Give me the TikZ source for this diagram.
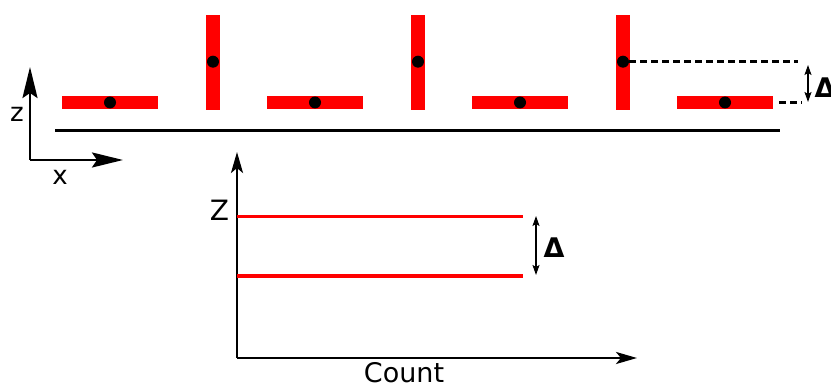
\documentclass[tikz,border=0pt]{standalone}
\usepackage{fontspec}
\setmainfont{DejaVu Sans}
\usetikzlibrary{arrows.meta}
\begin{document}
\begin{tikzpicture}[x=1pt,y=-1pt,
 hbar/.style={fill=red,inner sep=0,outer sep=0,minimum width=96pt,minimum height=13.5pt},
 vbar/.style={fill=red,inner sep=0,outer sep=0,minimum width=14pt,minimum height=95pt},
 dot/.style={circle,fill=black,inner sep=0,minimum size=12pt},
 bigaxis/.style={line width=2.6pt,-{Stealth[length=31pt,width=15pt,inset=5pt]}},
 plotaxis/.style={line width=2.6pt,-{Stealth[length=21pt,width=12pt,inset=5pt]}},
 dbl/.style={line width=1.5pt,{Stealth[length=10pt,width=7pt,inset=2pt]}-{Stealth[length=10pt,width=7pt,inset=2pt]}},
 dash line/.style={line width=2.6pt,dash pattern=on 7pt off 4pt},
 redline/.style={line width=3.2pt,red},
 lbl/.style={inner sep=0,font=\fontsize{26}{30}\selectfont},
 dlbl/.style={inner sep=0,font=\fontsize{27}{30}\selectfont\bfseries}
]
\useasboundingbox (0,0) rectangle (831,387);
% molecules
\foreach \i in {0,1,2,3}{
  \node[hbar] (h\i) at ({110+205*\i},102.5) {};
  \node[dot] (hd\i) at (h\i.center) {};
}
\foreach \i in {0,1,2}{
  \node[vbar] (v\i) at ({213+205*\i},62.5) {};
  \node[dot] (vd\i) at ({213+205*\i},61.7) {};
}
% surface
\coordinate (s1) at (55,130.7);
\coordinate (s2) at (780,130.7);
\draw[line width=2.8pt] (s1) -- (s2);
% dashed guides
\coordinate (d1) at (798,61.7);
\coordinate (d2a) at (779,102.5);
\coordinate (d2b) at (802,102.5);
\draw[dash line] (vd2.east) -- (d1);
\draw[dash line] (d2a) -- (d2b);
\coordinate (ta1) at (808,65);
\coordinate (ta2) at (808,102);
\draw[dbl] (ta1) -- (ta2);
\node[dlbl] (tdelta) at (825,88) {Δ};
% coordinate axes
\coordinate (o) at (30,160);
\coordinate (zt) at (30,67);
\coordinate (xt) at (123,160);
\draw[bigaxis] (o) -- (zt);
\draw[bigaxis] (o) -- (xt);
\node[lbl] (zl) at (17,114) {z};
\node[lbl] (xl) at (60,177) {x};
% histogram
\coordinate (po) at (237,358);
\coordinate (pz) at (237,152);
\coordinate (px) at (637,358);
\draw[plotaxis] (po) -- (pz);
\draw[plotaxis] (po) -- (px);
\coordinate (r1a) at (237,216.7);
\coordinate (r1b) at (523,216.7);
\coordinate (r2a) at (237,276);
\coordinate (r2b) at (523,276);
\draw[redline] (r1a) -- (r1b);
\draw[redline] (r2a) -- (r2b);
\coordinate (ba1) at (536,216);
\coordinate (ba2) at (536,275);
\draw[dbl] (ba1) -- (ba2);
\node[dlbl] (bdelta) at (554,248) {Δ};
\node[lbl,font=\fontsize{28}{30}\selectfont] (Zl) at (219.5,210) {Z};
\node[lbl,font=\fontsize{27}{30}\selectfont] (cnt) at (404,372.5) {Count};
\end{tikzpicture}
\end{document}
